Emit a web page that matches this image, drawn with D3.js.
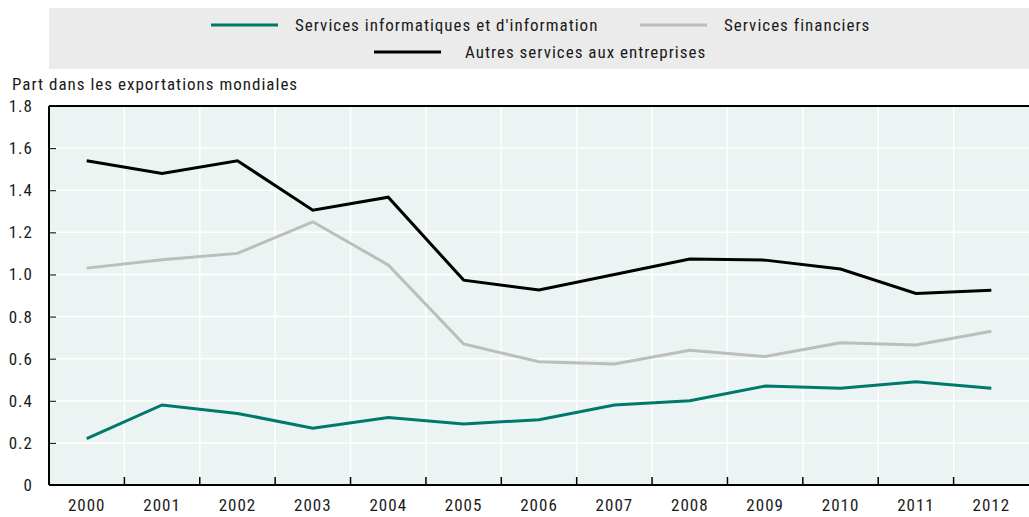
<!DOCTYPE html>
<html>
<head>
<meta charset="utf-8">
<script src="https://cdn.jsdelivr.net/npm/d3@7"></script>
<style>
  body { margin: 0; background: #fff; }
  svg text { font-family: "Liberation Sans Narrow", "Roboto Condensed", Roboto, sans-serif; fill: #1a1a1a; letter-spacing: 1px; }
</style>
</head>
<body>
<div id="chart"></div>
<script>
const years = ["2000","2001","2002","2003","2004","2005","2006","2007","2008","2009","2010","2011","2012"];
const informatiques = [0.22, 0.38, 0.34, 0.27, 0.32, 0.29, 0.31, 0.38, 0.40, 0.47, 0.46, 0.49, 0.46];
const financiers = [1.03, 1.07, 1.10, 1.25, 1.045, 0.67, 0.585, 0.575, 0.64, 0.61, 0.675, 0.665, 0.73];
const autres = [1.54, 1.48, 1.54, 1.305, 1.367, 0.973, 0.926, 1.0, 1.073, 1.068, 1.026, 0.91, 0.925];
const yTicks = [0, 0.2, 0.4, 0.6, 0.8, 1.0, 1.2, 1.4, 1.6, 1.8];

const series = [
    { name: "Services informatiques et d'information", values: informatiques, color: "#00796a" },
    { name: "Services financiers", values: financiers, color: "#bdbdbd" },
    { name: "Autres services aux entreprises", values: autres, color: "#000000" }
];

const W = 1029, H = 517;
const margin = { top: 106, right: 0, bottom: 32, left: 49 },
      width = W - margin.left - margin.right,
      height = H - margin.top - margin.bottom;

const root = d3.select("#chart").append("svg")
    .attr("width", W)
    .attr("height", H);

// legend box
const legend = root.append("g");
legend.append("rect")
    .attr("x", 49).attr("y", 8)
    .attr("width", W - 49).attr("height", 61)
    .attr("fill", "#ebebeb");

const legendPos = [
    { lx: 211, tx: 295, y: 25 },
    { lx: 640, tx: 724, y: 25 },
    { lx: 374, tx: 465, y: 52 }
];
series.forEach((s, i) => {
    const p = legendPos[i];
    legend.append("line")
        .attr("x1", p.lx).attr("x2", p.lx + 67)
        .attr("y1", p.y).attr("y2", p.y)
        .attr("stroke", s.color).attr("stroke-width", 3);
    legend.append("text")
        .attr("x", p.tx).attr("y", p.y)
        .attr("dy", "0.35em")
        .style("font-size", "17px")
        .text(s.name);
});

root.append("text")
    .attr("x", 12).attr("y", 90)
    .style("font-size", "17px")
    .text("Part dans les exportations mondiales");

const svg = root.append("g")
    .attr("transform", `translate(${margin.left},${margin.top})`);

const xBand = d3.scaleBand().domain(years).range([0, width]);
const x = d => xBand(d) + xBand.bandwidth() / 2;
const y = d3.scaleLinear().domain([0, 1.8]).range([height, 0]);

svg.append("rect")
    .attr("width", width).attr("height", height)
    .attr("fill", "#ebf4f3");

// grid
svg.append("g")
    .selectAll("line.h")
    .data(yTicks.slice(1, -1))
    .enter().append("line")
    .attr("x1", 0).attr("x2", width)
    .attr("y1", d => y(d)).attr("y2", d => y(d))
    .attr("stroke", "#fff").attr("stroke-width", 1.5);

svg.append("g")
    .selectAll("line.v")
    .data(years.slice(1))
    .enter().append("line")
    .attr("x1", d => xBand(d)).attr("x2", d => xBand(d))
    .attr("y1", 0).attr("y2", height)
    .attr("stroke", "#fff").attr("stroke-width", 1.5);

// y axis
const yAxis = svg.append("g")
    .call(d3.axisLeft(y).tickValues(yTicks).tickSize(-7).tickPadding(16)
        .tickFormat(d => d === 0 ? "0" : d3.format(".1f")(d)));
yAxis.select(".domain").remove();
yAxis.selectAll(".tick line").attr("stroke", "#000");
yAxis.selectAll("text").style("font-size", "17px").attr("fill", "#1a1a1a");

// x axis
const xAxis = svg.append("g")
    .attr("transform", `translate(0,${height})`)
    .call(d3.axisBottom(xBand).tickSize(0).tickPadding(14));
xAxis.select(".domain").remove();
xAxis.selectAll("text").style("font-size", "17px").attr("fill", "#1a1a1a");

svg.append("g")
    .selectAll("line")
    .data(years.slice(1))
    .enter().append("line")
    .attr("x1", d => xBand(d)).attr("x2", d => xBand(d))
    .attr("y1", height).attr("y2", height - 8)
    .attr("stroke", "#000").attr("stroke-width", 1.5);

// frame lines
svg.append("line").attr("x1", 0).attr("x2", width).attr("y1", 0).attr("y2", 0)
    .attr("stroke", "#000").attr("stroke-width", 2);
svg.append("line").attr("x1", 0).attr("x2", width).attr("y1", height).attr("y2", height)
    .attr("stroke", "#000").attr("stroke-width", 2);
svg.append("line").attr("x1", 0).attr("x2", 0).attr("y1", 0).attr("y2", height)
    .attr("stroke", "#000").attr("stroke-width", 2);

const line = d3.line()
    .x((d, i) => x(years[i]))
    .y(d => y(d));

series.forEach(s => {
    svg.append("path")
        .datum(s.values)
        .attr("fill", "none")
        .attr("stroke", s.color)
        .attr("stroke-width", 3)
        .attr("d", line);
});
</script>
</body>
</html>
